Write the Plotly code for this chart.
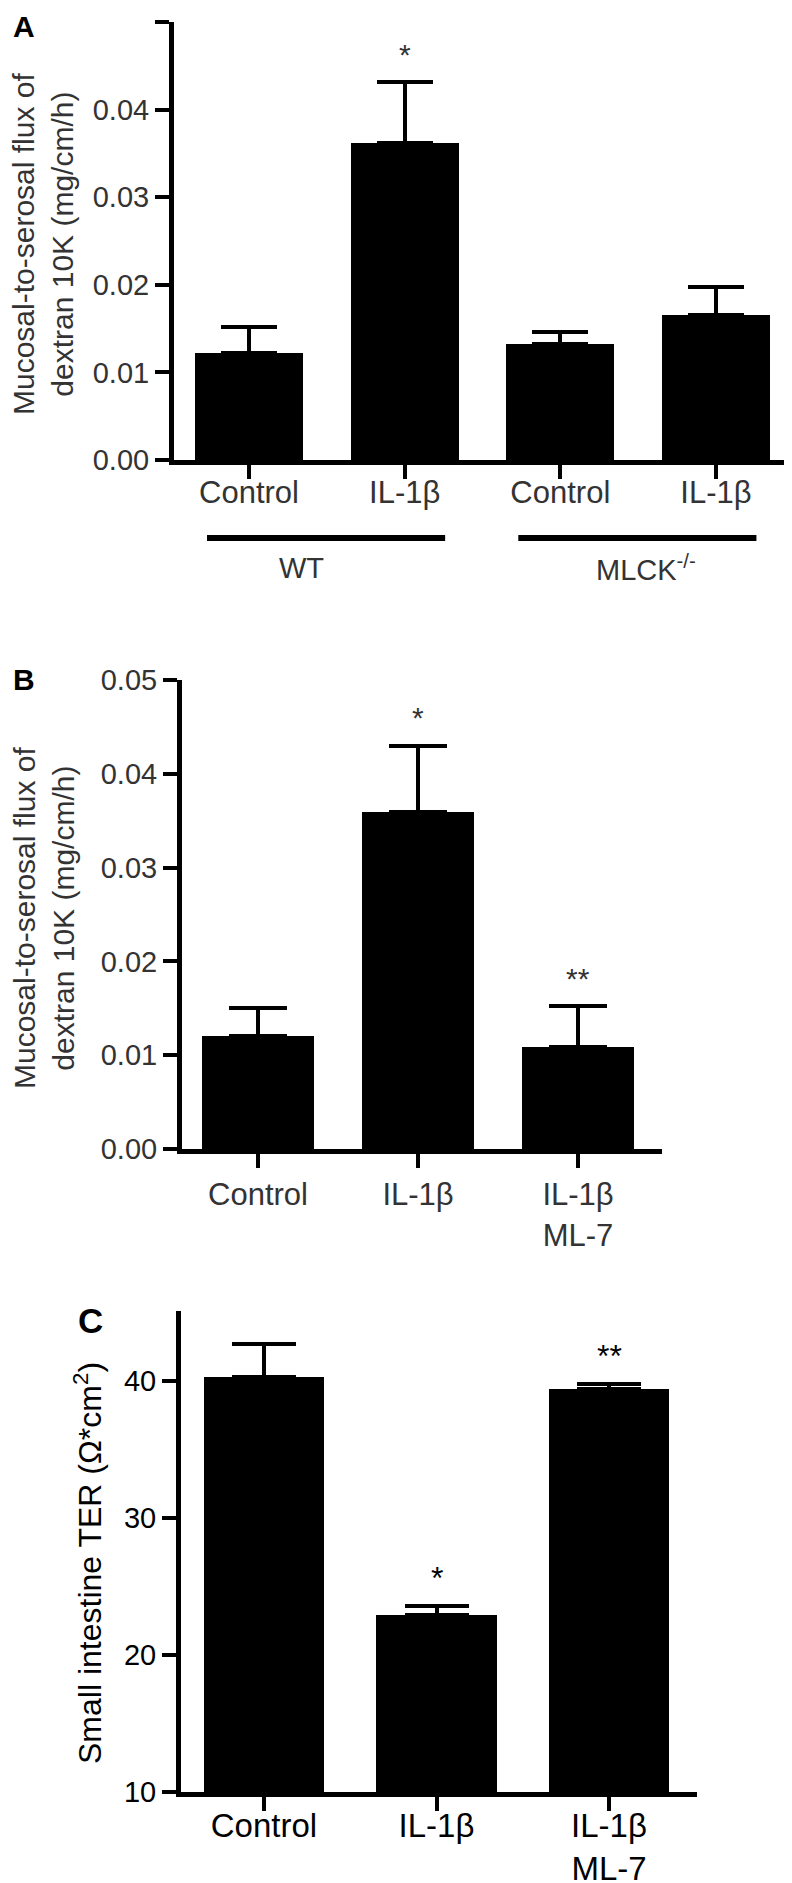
import plotly.graph_objects as go

# ── data ─────────────────────────────────────────────────────────────
a_labels = ["Control", "IL-1β", "Control", "IL-1β"]
a_mean = [0.0122, 0.0362, 0.0132, 0.0166]
a_err = [0.0030, 0.0069, 0.0014, 0.0031]
a_stars = ["", "*", "", ""]
a_groups = ["WT", "MLCK<sup>-/-</sup>"]
a_group_members = [(0, 1), (2, 3)]

b_labels = ["Control", "IL-1β", "IL-1β<br>ML-7"]
b_mean = [0.0120, 0.0359, 0.0109]
b_err = [0.0030, 0.0071, 0.0043]
b_stars = ["", "*", "**"]

c_labels = ["Control", "IL-1β", "IL-1β<br>ML-7"]
c_mean = [40.3, 22.9, 39.4]
c_err = [2.4, 0.7, 0.4]
c_stars = ["", "*", "**"]

flux_ticks = [0.00, 0.01, 0.02, 0.03, 0.04, 0.05]
ter_ticks = [10, 20, 30, 40]

W, H = 792, 1883
FONT = "Liberation Sans, Arial, sans-serif"
GREY = "#333333"


def fx(p):
    return p / W


def fy(p):
    return 1 - p / H


fig = go.Figure()


def add_panel(n, labels, mean, err, stars, width, cap, color, star_size):
    xs = list(range(len(labels)))
    xref = "x" if n == 1 else f"x{n}"
    yref = "y" if n == 1 else f"y{n}"
    fig.add_trace(go.Bar(
        x=xs, y=mean, width=width,
        marker=dict(color="black", line=dict(width=0)),
        error_y=dict(type="data", array=err, symmetric=False, arrayminus=[0] * len(err),
                     color="black", thickness=4, width=cap),
        xaxis=xref, yaxis=yref,
        showlegend=False, hoverinfo="skip",
    ))
    for i, s in enumerate(stars):
        if s:
            fig.add_annotation(
                x=xs[i], y=mean[i] + err[i], xref=xref, yref=yref,
                text=s, showarrow=False, xanchor="center", yanchor="middle", yshift=28,
                font=dict(family=FONT, size=star_size, color=color),
            )


add_panel(1, a_labels, a_mean, a_err, a_stars, 0.694, 28, GREY, 30)
add_panel(2, b_labels, b_mean, b_err, b_stars, 0.70, 29, GREY, 30)
add_panel(3, c_labels, c_mean, c_err, c_stars, 0.70, 32, "black", 32)

axis_common = dict(
    showline=True, linecolor="black", linewidth=5,
    ticks="outside", ticklen=14, tickwidth=4, tickcolor="black",
    showgrid=False, zeroline=False, fixedrange=True, automargin=False,
)

fig.update_layout(
    width=W, height=H,
    margin=dict(l=0, r=0, t=0, b=0),
    paper_bgcolor="white", plot_bgcolor="white",
    bargap=0,
    # panel A
    xaxis=dict(axis_common, domain=[fx(166), fx(790)], range=[-0.482, 3.527],
               anchor="y", tickvals=list(range(len(a_labels))), ticktext=a_labels,
               ticklabelstandoff=-13,
               tickfont=dict(family=FONT, size=31, color=GREY)),
    yaxis=dict(axis_common, domain=[fy(452), fy(14)], range=[0, 0.05],
               anchor="x", tickvals=flux_ticks, tickformat=".2f",
               tickfont=dict(family=FONT, size=29, color=GREY)),
    # panel B
    xaxis2=dict(axis_common, domain=[fx(174), fx(654)], range=[-0.475, 2.525],
                anchor="y2", tickvals=list(range(len(b_labels))), ticktext=b_labels,
                ticklabelstandoff=0,
                tickfont=dict(family=FONT, size=31, color=GREY)),
    yaxis2=dict(axis_common, domain=[fy(1141), fy(672)], range=[0, 0.05],
                anchor="x2", tickvals=flux_ticks, tickformat=".2f",
                tickfont=dict(family=FONT, size=29, color=GREY)),
    # panel C
    xaxis3=dict(axis_common, domain=[fx(173), fx(689)], range=[-0.481, 2.51],
                anchor="y3", tickvals=list(range(len(c_labels))), ticktext=c_labels,
                ticklabelstandoff=-14,
                tickfont=dict(family=FONT, size=33, color="black")),
    yaxis3=dict(axis_common, domain=[fy(1784), fy(1303)], range=[10, 45.1],
                anchor="x3", tickvals=ter_ticks,
                tickfont=dict(family=FONT, size=29, color="black")),
)

# group bars and labels under panel A
for name, (i0, i1), shift in zip(a_groups, a_group_members, [-25, 8]):
    fig.add_shape(type="line", xref="x", yref="paper",
                  x0=i0 - 0.27, x1=i1 + 0.26, y0=fy(530), y1=fy(530),
                  line=dict(color="black", width=6))
    fig.add_annotation(x=(i0 + i1) / 2, y=fy(560), xref="x", yref="paper",
                       text=name, showarrow=False, xshift=shift,
                       xanchor="center", yanchor="middle",
                       font=dict(family=FONT, size=29, color=GREY))

# axis titles
flux_title = "Mucosal-to-serosal flux of<br>dextran 10K (mg/cm/h)"
for cx, cy in [(35, 236), (36, 910)]:
    fig.add_annotation(x=fx(cx), y=fy(cy), xref="paper", yref="paper",
                       text=flux_title, textangle=-90, showarrow=False,
                       xanchor="center", yanchor="middle",
                       font=dict(family=FONT, size=30, color=GREY))
fig.add_annotation(x=fx(80), y=fy(1555), xref="paper", yref="paper",
                   text="Small intestine TER (Ω*cm<sup>2</sup>)",
                   textangle=-90, showarrow=False,
                   xanchor="center", yanchor="middle",
                   font=dict(family=FONT, size=32, color="black"))

# panel letters
for letter, px, py, size in [("A", 16, 18, 30), ("B", 16, 671, 30), ("C", 82, 1312, 35)]:
    fig.add_annotation(x=fx(px), y=fy(py), xref="paper", yref="paper",
                       text=f"<b>{letter}</b>", showarrow=False,
                       xanchor="center", yanchor="middle",
                       font=dict(family=FONT, size=size, color="black"))

fig.write_html("out.html")
